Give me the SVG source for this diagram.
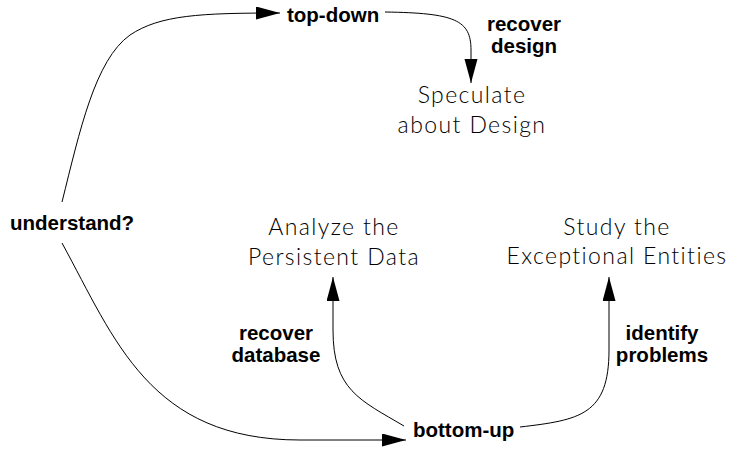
<svg xmlns="http://www.w3.org/2000/svg" width="736" height="457" viewBox="0 0 736 457">
<style>
.lbl{font-family:"Liberation Sans",Arial,sans-serif;font-weight:bold;font-size:20.5px;fill:#000}
.node{font-family:Lato,"Open Sans","DejaVu Sans",sans-serif;font-weight:300;font-size:23px;letter-spacing:1.4px;fill:#000;text-anchor:middle}
.c{fill:none;stroke:#000;stroke-width:1}
.mid{text-anchor:middle}
</style>
<defs>
<marker id="ah" markerUnits="userSpaceOnUse" markerWidth="25" markerHeight="14" refX="24" refY="6.5" orient="auto">
<path d="M0,0 L24,6.5 L0,13 z" fill="#000"/>
</marker>
</defs>
<rect width="736" height="457" fill="#fff"/>
<g id="connectors">
<path class="c" d="M62,202 C80,130 95,60 130,35 C160,15 200,13 280,13" marker-end="url(#ah)"/>
<path class="c" d="M385,12 C455,13 471,20 471,50 L471,83" marker-end="url(#ah)"/>
<path class="c" d="M62,243 C115,340 150,440 300,440 L406,440" marker-end="url(#ah)"/>
<path class="c" d="M404,426 C360,400 333,390 333,330 L333,277" marker-end="url(#ah)"/>
<path class="c" d="M520,427 C580,420 609,415 609,350 L609,277" marker-end="url(#ah)"/>
</g>
<g id="top-down"><text class="lbl" x="287" y="22">top-down</text></g>
<g id="recover-design"><text class="lbl mid" x="524" y="31">recover</text><text class="lbl mid" x="524" y="53">design</text></g>
<g id="speculate"><text class="node" x="472" y="103">Speculate</text><text class="node" x="472" y="133">about Design</text></g>
<g id="understand"><text class="lbl" x="10" y="230">understand?</text></g>
<g id="analyze"><text class="node" x="334" y="235">Analyze the</text><text class="node" x="334" y="265">Persistent Data</text></g>
<g id="study"><text class="node" x="617" y="235">Study the</text><text class="node" x="617" y="264">Exceptional Entities</text></g>
<g id="recover-database"><text class="lbl mid" x="276" y="340">recover</text><text class="lbl mid" x="276" y="362">database</text></g>
<g id="identify-problems"><text class="lbl mid" x="662" y="340">identify</text><text class="lbl mid" x="662" y="362">problems</text></g>
<g id="bottom-up"><text class="lbl" x="413" y="437">bottom-up</text></g>
</svg>
